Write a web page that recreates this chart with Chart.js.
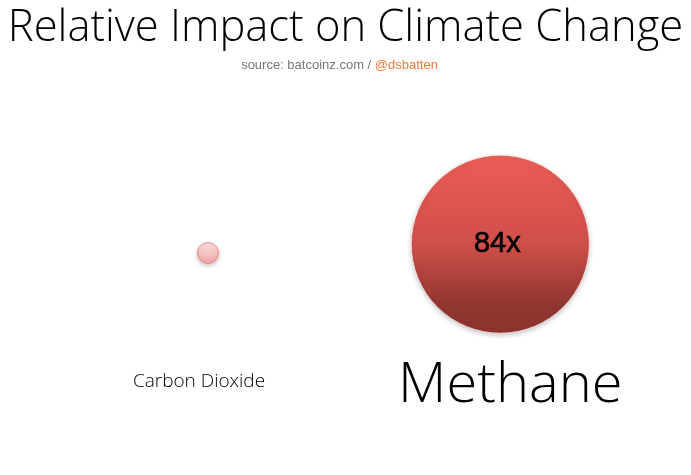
<!DOCTYPE html>
<html>
<head>
<meta charset="utf-8">
<script src="https://cdn.jsdelivr.net/npm/chart.js@4/dist/chart.umd.min.js"></script>
<style>
html,body{margin:0;padding:0;background:#fff;}
#wrap{width:691px;height:475px;}
</style>
</head>
<body>
<div id="wrap"><canvas id="chart" width="691" height="475"></canvas></div>
<script>
// gases and how much each one warms, relative to CO2
const gases=["Carbon Dioxide","Methane"];
const impact=[1,84];
const impactLabels=["","84x"];
// where the bubbles sit and how big they are
const xPos=[3.01,7.24];
const yPos=[55.1,57.3];
const bubbleSize=[10.5,89];
const nameLevel=[23.1,22.1];

const titleText="Relative Impact on Climate Change";
const sourceText="source: batcoinz.com / ";
const handleText="@dsbatten";

const LIGHT="'Open Sans', 'Liberation Sans', sans-serif";

function bubbleFill(c){
const ch=c.chart, i=c.dataIndex;
if(!ch.chartArea||!ch.scales.y) return i==1?"#d4504b":"#f6b3b3";
const y=ch.scales.y.getPixelForValue(yPos[i]);
const r=bubbleSize[i];
const g=ch.ctx.createLinearGradient(0,y-r,0,y+r);
if(i==1){
g.addColorStop(0,"#ec5d56");
g.addColorStop(0.5,"#cf4f4a");
g.addColorStop(0.85,"#90352f");
g.addColorStop(1,"#8c342f");
}else{
g.addColorStop(0,"#fde3e3");
g.addColorStop(0.5,"#f9c4c4");
g.addColorStop(1,"#f2a4a4");
}
return g;
}

// subtitle in two colours + names under the bubbles + text inside the big one
const textPlugin={
id:"texts",
beforeDatasetDraw(chart){
const c=chart.ctx;
c.save();
c.shadowColor="rgba(0,0,0,0.22)";
c.shadowBlur=5;
c.shadowOffsetY=2;
},
afterDatasetDraw(chart){chart.ctx.restore();},
afterDraw(chart){
const c=chart.ctx;
c.save();
// source line
c.font="13px 'Liberation Sans', Arial, sans-serif";
c.textBaseline="middle";
c.textAlign="left";
const w1=c.measureText(sourceText).width,w2=c.measureText(handleText).width;
let sx=chart.width/2-(w1+w2)/2-6;
const sy=chart.titleBlock.bottom-7;
c.fillStyle="#767676";
c.fillText(sourceText,sx,sy);
c.fillStyle="#ee7a3a";
c.fillText(handleText,sx+w1,sy);
// bubble text
const meta=chart.getDatasetMeta(0);
c.textAlign="center";
meta.data.forEach((p,i)=>{
if(!impactLabels[i]) return;
c.fillStyle="#000";
c.strokeStyle="#000";
c.lineWidth=0.6;
c.font="29px 'Liberation Sans', Arial, sans-serif";
c.fillText(impactLabels[i],p.x-3,p.y);
c.strokeText(impactLabels[i],p.x-3,p.y);
});
// gas names
const xs=chart.scales.x, ys=chart.scales.y;
c.fillStyle="#000";
c.font="300 19px "+LIGHT;
c.fillText(gases[0],xs.getPixelForValue(xPos[0])-9,ys.getPixelForValue(nameLevel[0]));
c.font="300 56px "+LIGHT;
c.fillText(gases[1],xs.getPixelForValue(xPos[1])+10,ys.getPixelForValue(nameLevel[1]));
c.restore();
}
};

const ctx=document.getElementById("chart").getContext("2d");
const chart=new Chart(ctx,{
type:"bubble",
data:{
labels:gases,
datasets:[{
data:gases.map((g,i)=>({x:xPos[i],y:yPos[i],r:bubbleSize[i],v:impact[i]})),
backgroundColor:bubbleFill,
borderColor:["#ea8a8a","rgba(255,235,235,0.7)"],
borderWidth:1,
hoverRadius:0,
clip:false
}]
},
options:{
responsive:false,
animation:false,
layout:{padding:0,autoPadding:false},
scales:{
x:{type:"linear",min:0,max:10,display:false},
y:{type:"linear",min:0,max:100,display:false}
},
plugins:{
legend:{display:false},
tooltip:{enabled:false},
title:{display:true,text:titleText,color:"#000",
font:{family:LIGHT,weight:"300",size:43.5},padding:{top:3,bottom:17}}
}
},
plugins:[textPlugin]
});
</script>
</body>
</html>
